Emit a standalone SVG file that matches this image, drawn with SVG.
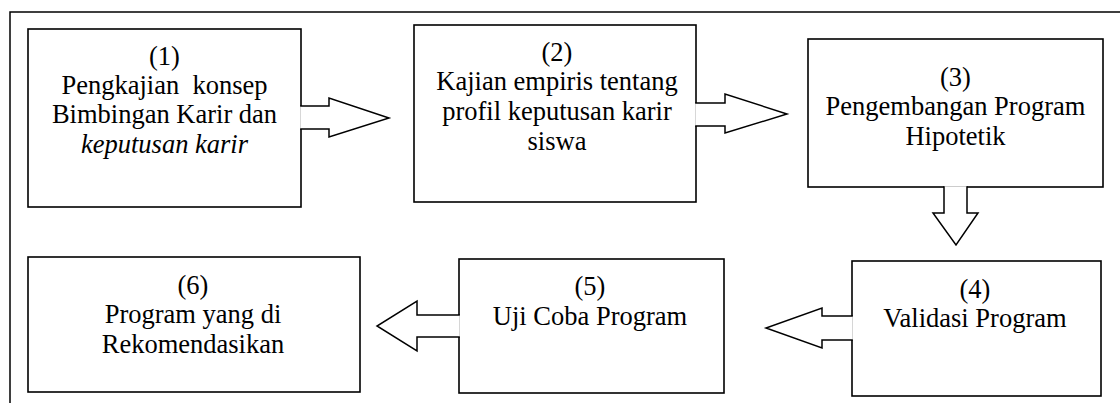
<svg xmlns="http://www.w3.org/2000/svg" width="1120" height="403" viewBox="0 0 1120 403">
<style>
.box{fill:#fff;stroke:#000;stroke-width:1.6}
.arr{fill:#fff;stroke:#000;stroke-width:1.5;stroke-linejoin:miter}
.t{font-size:26.5px;fill:#000;text-anchor:middle}
.i{font-style:italic}
</style>
<rect width="1120" height="403" fill="#fff"/>
<rect x="10" y="12" width="1120" height="400" fill="none" stroke="#000" stroke-width="1.5"/>
<g font-family="Liberation Serif, DejaVu Serif, serif">
<g id="n1">
<rect class="box" x="28" y="29" width="273" height="178"/>
<text class="t" x="164.5" y="65">(1)</text>
<text class="t" x="164.5" y="94" xml:space="preserve">Pengkajian  konsep</text>
<text class="t" x="164.5" y="123">Bimbingan Karir dan</text>
<text class="t i" x="164.5" y="153">keputusan karir</text>
</g>
<g id="n2">
<rect class="box" x="414" y="25" width="282" height="177"/>
<text class="t" x="557" y="61">(2)</text>
<text class="t" x="557" y="90">Kajian empiris tentang</text>
<text class="t" x="557" y="120">profil keputusan karir</text>
<text class="t" x="557" y="150">siswa</text>
</g>
<g id="n3">
<rect class="box" x="808" y="39" width="295" height="148"/>
<text class="t" x="955.5" y="86">(3)</text>
<text class="t" x="955.5" y="115">Pengembangan Program</text>
<text class="t" x="955.5" y="145">Hipotetik</text>
</g>
<g id="n4">
<rect class="box" x="852" y="261" width="249" height="135"/>
<text class="t" x="975" y="298">(4)</text>
<text class="t" x="975" y="327">Validasi Program</text>
</g>
<g id="n5">
<rect class="box" x="459" y="259" width="265" height="134"/>
<text class="t" x="590" y="295">(5)</text>
<text class="t" x="590" y="325">Uji Coba Program</text>
</g>
<g id="n6">
<rect class="box" x="28" y="257" width="332" height="135"/>
<text class="t" x="193" y="294">(6)</text>
<text class="t" x="193" y="323">Program yang di</text>
<text class="t" x="193" y="353">Rekomendasikan</text>
</g>
</g>
<g id="connectors">
<path class="arr" d="M300.2,106 L329,106 L329,98 L389,118 L329,137 L329,129 L300.2,129"/>
<path class="arr" d="M695.2,103 L725,103 L725,94 L787,114 L725,133 L725,126 L695.2,126"/>
<path class="arr" d="M944,186.2 L944,213 L933,213 L956,245 L978,213 L967,213 L967,186.2"/>
<path class="arr" d="M852.8,316 L822,316 L822,308 L766,328 L822,348 L822,340 L852.8,340"/>
<path class="arr" d="M459.8,315 L417,315 L417,301 L377,326 L417,351 L417,337 L459.8,337"/>
</g>
</svg>
